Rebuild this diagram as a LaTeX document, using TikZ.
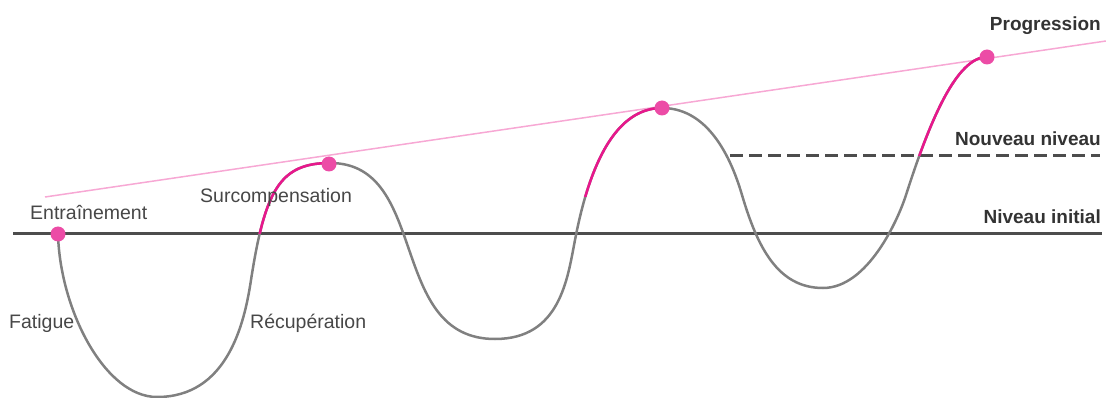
\documentclass[tikz,border=0pt]{standalone}
\usepackage{fontspec}
\setmainfont{Liberation Sans}
\definecolor{txtgray}{HTML}{474747}
\definecolor{boldgray}{HTML}{333333}
\definecolor{curvegray}{HTML}{808080}
\definecolor{basegray}{HTML}{4D4D4D}
\definecolor{hotpink}{HTML}{E8178C}
\definecolor{lightpink}{HTML}{F7A8D4}
\definecolor{dotpink}{HTML}{EC4CA6}
\begin{document}
\begin{tikzpicture}[x=1pt,y=-1pt,
  lbl/.style={font=\fontsize{19.5}{20}\selectfont, text=txtgray, inner sep=0pt},
  blbl/.style={font=\bfseries\fontsize{19}{20}\selectfont, text=boldgray, inner sep=0pt},
  dot/.style={circle, fill=dotpink, inner sep=0pt, minimum size=15pt},
  wave/.style={draw=curvegray, line width=2.5pt},
  pinkwave/.style={draw=hotpink, line width=2.5pt},
  baseline/.style={draw=basegray, line width=3pt},
  dashline/.style={draw=basegray, line width=3pt, dash pattern=on 13pt off 6pt},
  progline/.style={draw=lightpink, line width=1.5pt}]
\useasboundingbox (0,0) rectangle (1106,398);
% key coordinates
\coordinate (L0) at (13,234);
\coordinate (L1) at (1102,234);
\coordinate (N0) at (730,156);
\coordinate (N1) at (1100,156);
\coordinate (G0) at (45,197);
\coordinate (G1) at (1106,41);
\coordinate (A) at (58,234);
\coordinate (M1) at (157,397);
\coordinate (I1) at (251,280);
\coordinate (P1) at (330,163);
\coordinate (M2) at (495,339);
\coordinate (I2) at (575,240);
\coordinate (P2) at (662,108);
\coordinate (I4) at (742,195);
\coordinate (M3) at (823,288);
\coordinate (I5) at (906,195);
\coordinate (P3) at (987,57);
% lines
\draw[progline] (G0) -- (G1);
\draw[dashline] (N0) -- (N1);
\draw[baseline] (L0) -- (L1);
% gray wave
\draw[wave] (A) .. controls (60,310) and (105,397) .. (M1)
  .. controls (227,397) and (244.3,324.5) .. (I1)
  .. controls (265,190) and (280,163) .. (P1)
  .. controls (430,163) and (387,339) .. (M2)
  .. controls (560,339) and (567.4,279.3) .. (I2)
  .. controls (590,161.4) and (617,108) .. (P2)
  .. controls (712,108) and (733.5,166.2) .. (I4)
  .. controls (757.6,247.7) and (778,288) .. (M3)
  .. controls (868,288) and (898.4,218.8) .. (I5)
  .. controls (930.4,118.8) and (957,57) .. (P3);
% pink parts
\begin{scope}
  \clip (200,0) rectangle (331,233.5);
  \draw[pinkwave] (M1) .. controls (227,397) and (244.3,324.5) .. (I1)
    .. controls (265,190) and (280,163) .. (P1);
\end{scope}
\begin{scope}
  \clip (560,0) rectangle (663,197);
  \draw[pinkwave] (I2) .. controls (590,161.4) and (617,108) .. (P2);
\end{scope}
\begin{scope}
  \clip (880,0) rectangle (990,156);
  \draw[pinkwave] (M3) .. controls (868,288) and (898.4,218.8) .. (I5)
    .. controls (930.4,118.8) and (957,57) .. (P3);
\end{scope}
% dots
\node[dot] (dA) at (A) {};
\node[dot] (d1) at (329,164) {};
\node[dot] (d2) at (P2) {};
\node[dot] (d3) at (P3) {};
% labels
\node[lbl, anchor=base west] (tEnt) at (30,220) {Entraînement};
\node[lbl, anchor=base west] (tSur) at (200,203) {Surcompensation};
\node[lbl, anchor=base west] (tFat) at (9,328) {Fatigue};
\node[lbl, anchor=base west] (tRec) at (250,328) {Récupération};
\node[blbl, anchor=base east] (tProg) at (1101,31) {Progression};
\node[blbl, anchor=base east] (tNouv) at (1101,146) {Nouveau niveau};
\node[blbl, anchor=base east] (tInit) at (1101,224) {Niveau initial};
\end{tikzpicture}
\end{document}
